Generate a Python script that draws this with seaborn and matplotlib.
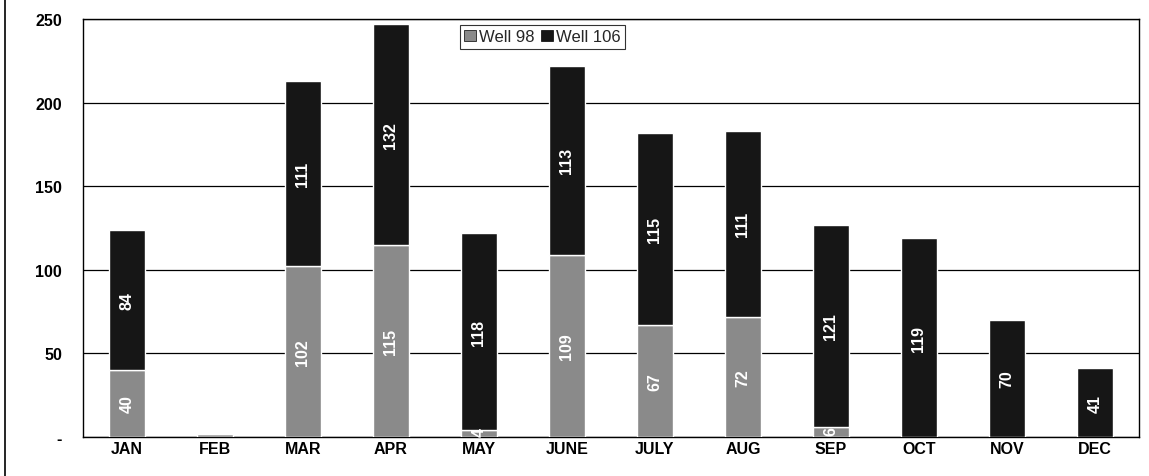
import numpy as np
import pandas as pd
import matplotlib
matplotlib.use("Agg")
import matplotlib.pyplot as plt
import seaborn as sns
from matplotlib.patches import Patch
from matplotlib.lines import Line2D

months = ["JAN", "FEB", "MAR", "APR", "MAY", "JUNE", "JULY", "AUG", "SEP", "OCT", "NOV", "DEC"]
well_98 = [40, 2, 102, 115, 4, 109, 67, 72, 6, 0, 0, 0]
well_106 = [84, 0, 111, 132, 118, 113, 115, 111, 121, 119, 70, 41]
y_ticks = [0, 50, 100, 150, 200, 250]
y_tick_labels = ["-", "50", "100", "150", "200", "250"]

color_98 = "#8a8a8a"
color_106 = "#161616"

sns.set_style("white")
plt.rcParams["font.family"] = ["Liberation Sans", "DejaVu Sans"]

df = pd.DataFrame({"month": months, "w98": well_98, "w106": well_106})

fig = plt.figure(figsize=(11.49, 4.77), dpi=100)
ax = fig.add_axes([0.0722, 0.0818, 0.9191, 0.8762])

sns.barplot(data=df, x="month", y="w98", color=color_98, width=0.41,
            saturation=1, ax=ax, zorder=3)
sns.barplot(data=df, x="month", y="w106", color=color_106, width=0.41,
            saturation=1, ax=ax, bottom=df["w98"], zorder=3)

# value labels inside segments
for i, (a, b) in enumerate(zip(well_98, well_106)):
    if a >= 4:
        ya = a / 2 if a > 20 else a / 2 + 1
        ax.text(i, ya, str(a), rotation=90, ha="center", va="center",
                color="white", fontsize=11.5, fontweight="bold", zorder=5)
    if b >= 4:
        ax.text(i, a + b / 2, str(b), rotation=90, ha="center", va="center",
                color="white", fontsize=11.5, fontweight="bold", zorder=5)

ax.set_xlim(-0.5, 11.5)
ax.set_ylim(0, 250)
ax.set_yticks(y_ticks)
ax.set_yticklabels(y_tick_labels)
ax.yaxis.grid(True, color="black", linewidth=0.9, zorder=0)
ax.set_axisbelow(True)
ax.tick_params(axis="both", length=0, labelsize=11.5, labelcolor="black")
ax.tick_params(axis="x", pad=3)
ax.tick_params(axis="y", pad=15)
for lab in ax.get_xticklabels() + ax.get_yticklabels():
    lab.set_fontweight("bold")
ax.set_xlabel("")
ax.set_ylabel("")
for s in ax.spines.values():
    s.set_visible(True)
    s.set_color("black")
    s.set_linewidth(1.0)

handles = [Patch(facecolor=color_98, edgecolor="black", linewidth=0.5),
           Patch(facecolor=color_106, edgecolor="black", linewidth=0.5)]
leg = ax.legend(handles, ["Well 98", "Well 106"], loc="upper center",
                bbox_to_anchor=(0.435, 0.985), ncol=2, frameon=True,
                fancybox=False, edgecolor="black", fontsize=12,
                handlelength=0.7, handleheight=0.7, handletextpad=0.2,
                columnspacing=0.4, borderpad=0.25, borderaxespad=0)
leg.get_frame().set_linewidth(0.8)

# page edge from the scan
fig.add_artist(Line2D([0.004, 0.004], [0, 1], color="black", linewidth=1.2))

fig.savefig("out.png", dpi=100)
